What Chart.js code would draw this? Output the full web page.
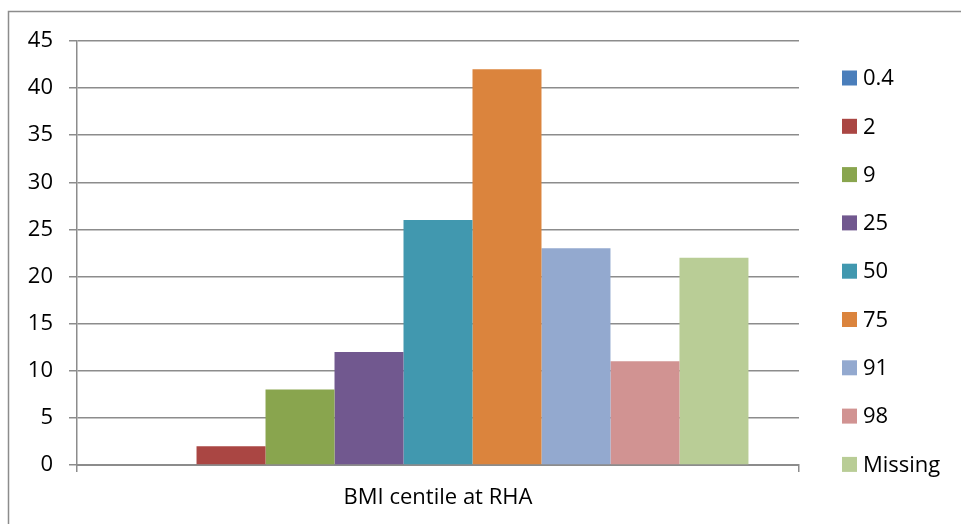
<!DOCTYPE html>
<html>
<head>
<meta charset="utf-8">
<script src="https://cdn.jsdelivr.net/npm/chart.js@4.4.0/dist/chart.umd.min.js"></script>
<style>
  html, body { margin: 0; padding: 0; background: #fff; }
  canvas { display: block; }
</style>
</head>
<body>
<canvas id="c" width="961" height="524"></canvas>
<script>
// BMI centile at RHA — counts per centile band
const categories = ['BMI centile at RHA'];
const seriesNames = ['0.4', '2', '9', '25', '50', '75', '91', '98', 'Missing'];
const seriesValues = [0, 2, 8, 12, 26, 42, 23, 11, 22];
const seriesColors = ['#4a7ebb', '#aa4643', '#89a54e', '#71588f', '#4198af',
                      '#db843d', '#93a9cf', '#d19392', '#b9cd96'];
const yTicks = [0, 5, 10, 15, 20, 25, 30, 35, 40, 45];

const FONT = '"Open Sans", Lato, "DejaVu Sans", sans-serif';
const FONT_SIZE = 22;
const GRID = '#8c8c8c';

const datasets = seriesNames.map((name, i) => ({
  label: name,
  data: [seriesValues[i]],
  backgroundColor: seriesColors[i],
  borderWidth: 0,
  categoryPercentage: 0.86,
  barPercentage: 1.0
}));

// outer frame around the chart
const framePlugin = {
  id: 'frame',
  beforeDraw(chart) {
    const ctx = chart.ctx;
    ctx.save();
    ctx.fillStyle = '#fff';
    ctx.fillRect(0, 0, chart.width, chart.height);
    ctx.strokeStyle = '#8c8c8c';
    ctx.lineWidth = 1.5;
    ctx.strokeRect(8.5, 11.5, 1200, 800);
    ctx.restore();
  }
};

// vertical legend on the right
const legendPlugin = {
  id: 'sideLegend',
  afterDraw(chart) {
    const ctx = chart.ctx;
    const x0 = chart.chartArea.right + 43;
    const y0 = 78;
    const step = 48.3;
    ctx.save();
    ctx.font = FONT_SIZE + 'px ' + FONT;
    ctx.textBaseline = 'middle';
    ctx.textAlign = 'left';
    chart.data.datasets.forEach((ds, i) => {
      const y = y0 + i * step;
      ctx.fillStyle = ds.backgroundColor;
      ctx.fillRect(x0, y - 7.5, 15, 15);
      ctx.fillStyle = '#000';
      ctx.fillText(ds.label, x0 + 21, y + 1);
    });
    ctx.restore();
  }
};

new Chart(document.getElementById('c'), {
  type: 'bar',
  data: { labels: categories, datasets },
  options: {
    responsive: false,
    animation: false,
    layout: { padding: { left: 0, right: 162, top: 41, bottom: 0 } },
    plugins: {
      legend: { display: false },
      tooltip: { enabled: false }
    },
    scales: {
      x: {
        grid: {
          offset: true,
          drawOnChartArea: false,
          drawTicks: true,
          tickLength: 7,
          color: GRID,
          lineWidth: 1.5
        },
        border: { color: GRID, width: 2 },
        ticks: {
          color: '#000',
          font: { family: FONT, size: FONT_SIZE },
          padding: 13
        },
        afterFit(scale) { scale.height = 59; }
      },
      y: {
        min: 0,
        max: 45,
        afterBuildTicks(scale) { scale.ticks = yTicks.map(v => ({ value: v })); },
        grid: {
          color: GRID,
          lineWidth: 1.5,
          tickLength: 8
        },
        border: { color: GRID, width: 1.5 },
        ticks: {
          color: '#000',
          font: { family: FONT, size: FONT_SIZE },
          padding: 16
        },
        afterFit(scale) { scale.width = 77; }
      }
    }
  },
  plugins: [framePlugin, legendPlugin]
});
</script>
</body>
</html>
